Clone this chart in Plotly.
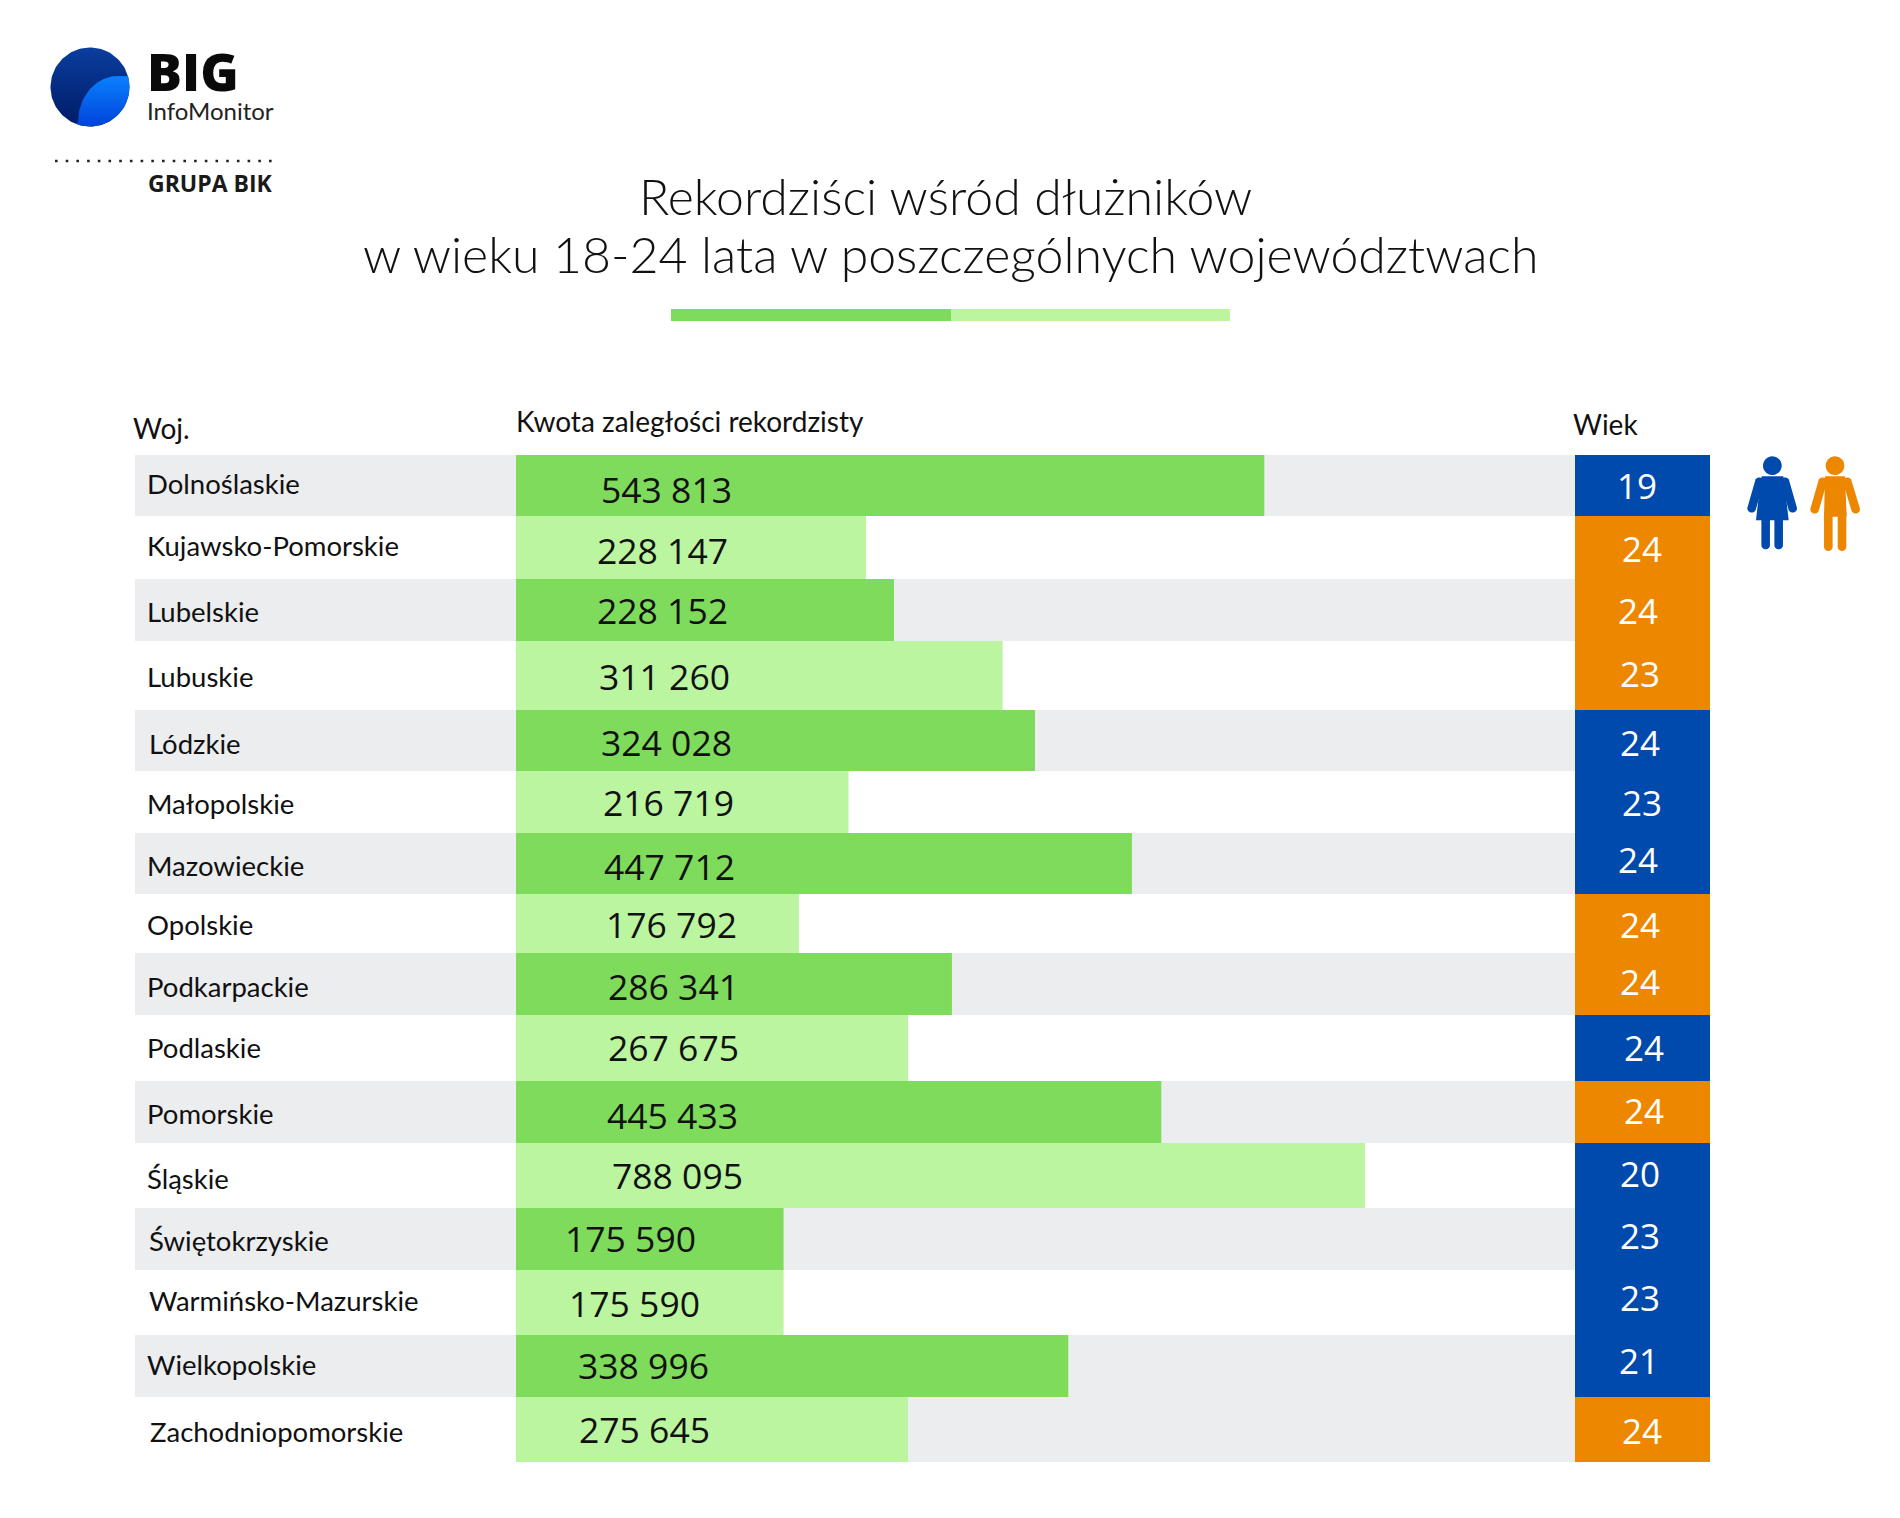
import numpy as np
import plotly.graph_objects as go

# ---------- data ----------
voivodeships = ["Dolnoślaskie", "Kujawsko-Pomorskie", "Lubelskie", "Lubuskie", "Lódzkie", "Małopolskie",
                "Mazowieckie", "Opolskie", "Podkarpackie", "Podlaskie", "Pomorskie", "Śląskie",
                "Świętokrzyskie", "Warmińsko-Mazurskie", "Wielkopolskie", "Zachodniopomorskie"]
amount_labels = ["543 813", "228 147", "228 152", "311 260", "324 028", "216 719", "447 712", "176 792",
                 "286 341", "267 675", "445 433", "788 095", "175 590", "175 590", "338 996", "275 645"]
# the source infographic's bars are not proportional to their printed labels: lengths as drawn
bar_drawn = [694650, 324900, 350900, 451700, 481800, 308650, 571800, 262700,
             404700, 363900, 599000, 788095, 248400, 248400, 512700, 363900]
ages = [19, 24, 24, 23, 24, 23, 24, 24, 24, 24, 24, 20, 23, 23, 21, 24]
genders = ["K", "M", "M", "M", "K", "K", "K", "M", "M", "K", "M", "K", "K", "K", "K", "M"]

# ---------- layout / style ----------
W, H = 1900, 1518
row_heights = [61, 63, 62, 69, 61, 62, 61, 59, 62, 66, 62, 65, 62, 65, 62, 65]
TOP, BOTTOM = 455, 1462
TRACK_L, TRACK_R, AGE_R, STRIPE_L = 516, 1575, 1710, 135
AXIS_MAX = 983070
DARK, LIGHT, GREY, BLUE, ORANGE = "#7FDB5B", "#BCF5A0", "#ECEDEF", "#004AAD", "#EE8700"
gender_color = {"K": BLUE, "M": ORANGE}
SANS, NUM = "Lato", "Open Sans"

cat_dx = [10, 10, 10, 10, 12, 10, 10, 10, 10, 10, 10, 10, 12, 12, 10, 13]
cat_dy = [-1.5, -1.5, 1.5, 1.5, 3.2, 1, 1.5, 0.5, 2, -1, 1.7, 2.5, 1, -2.5, -1.3, 1.9]
val_dx = [150, 146, 146, 148, 150, 152, 153, 155, 157, 157, 156, 161, 114, 118, 127, 128]
val_dy = [3.5, 2, 0, 0, 1, 0, 2, 0.5, 2.2, -1.5, 2.5, -0.7, -1.5, 0, -1.4, -0.5]
age_dx = [-5.5, -1, -5, -3, -3, -1, -5, -3, -3, 1, 1, -3, -3, -3, -4, -1]
age_dy = [-.5, .5, .7, -2.5, 2.2, .7, -3.8, 1.5, -2.7, -.5, -1.4, -1.7, -3.4, -4.9, -5.6, .6]

edges = np.concatenate([[0], np.cumsum(row_heights)])
centers = (edges[:-1] + edges[1:]) / 2
PX = lambda p: p / W
PY = lambda p: 1 - p / H

fig = go.Figure()
fig.add_bar(y=centers, x=bar_drawn, width=row_heights, orientation="h", xaxis="x", yaxis="y",
            marker=dict(color=[DARK if i % 2 == 0 else LIGHT for i in range(16)], line_width=0),
            hoverinfo="skip", showlegend=False)
fig.add_bar(y=centers, x=[1] * 16, width=row_heights, orientation="h", xaxis="x2", yaxis="y",
            marker=dict(color=[gender_color[g] for g in genders], line_width=0),
            hoverinfo="skip", showlegend=False)

# logo, with gradient fills on a separate subplot that spans the page in pixels
t = np.linspace(0, 2 * np.pi, 120)
fig.add_scatter(x=90 + 39.5 * np.cos(t), y=87 + 39.5 * np.sin(t), xaxis="x3", yaxis="y3", mode="lines",
                line_width=0, fill="toself", hoverinfo="skip", showlegend=False,
                fillgradient=dict(type="vertical", colorscale=[[0, "#001A66"], [1, "#0A3E9E"]]))
inner_arc_x = 118 + 40 * np.cos(np.linspace(np.pi, np.pi * 1.5, 30))
inner_arc_y = 122 + 46 * np.sin(np.linspace(np.pi, np.pi * 1.5, 30))
rim = np.linspace(np.arctan2(76 - 87, 39), np.pi * 0.62, 40)
fig.add_scatter(x=np.concatenate([inner_arc_x, 90 + 39.5 * np.cos(rim)]),
                y=np.concatenate([inner_arc_y, 87 + 39.5 * np.sin(rim)]),
                xaxis="x3", yaxis="y3", mode="lines", line_width=0, fill="toself", hoverinfo="skip",
                showlegend=False,
                fillgradient=dict(type="vertical", colorscale=[[0, "#0044D8"], [1, "#0A80FF"]]))

shapes = []
for i in range(16):
    if i % 2 == 0:
        shapes.append(dict(type="rect", xref="paper", yref="y", x0=PX(STRIPE_L), x1=PX(TRACK_R),
                           y0=edges[i], y1=edges[i + 1], fillcolor=GREY, line_width=0, layer="below"))
shapes.append(dict(type="rect", xref="paper", yref="y", x0=PX(TRACK_L), x1=PX(TRACK_R),
                   y0=edges[15], y1=edges[16], fillcolor=GREY, line_width=0, layer="below"))
shapes.append(dict(type="rect", xref="paper", yref="paper", x0=PX(671), x1=PX(951), y0=PY(321), y1=PY(309),
                   fillcolor=DARK, line_width=0))
shapes.append(dict(type="rect", xref="paper", yref="paper", x0=PX(951), x1=PX(1230), y0=PY(321), y1=PY(309),
                   fillcolor=LIGHT, line_width=0))
shapes.append(dict(type="line", xref="paper", yref="paper", x0=PX(55), x1=PX(277), y0=PY(161), y1=PY(161),
                   line=dict(color="#222222", width=2.6, dash="2.6px,8.1px")))


def poly(points, color):
    d = "M" + " L".join(f"{PX(x):.5f},{PY(y):.5f}" for x, y in points) + " Z"
    shapes.append(dict(type="path", xref="paper", yref="paper", path=d, fillcolor=color, line_width=0))


def capsule(x1, y1, x2, y2, r, color):
    ang = np.arctan2(y2 - y1, x2 - x1)
    s1 = np.linspace(ang + np.pi / 2, ang + 3 * np.pi / 2, 12)
    s2 = np.linspace(ang - np.pi / 2, ang + np.pi / 2, 12)
    pts = [(x1 + r * np.cos(q), y1 + r * np.sin(q)) for q in s1]
    pts += [(x2 + r * np.cos(q), y2 + r * np.sin(q)) for q in s2]
    poly(pts, color)


def z(x, y):
    return (1500 + x / 3, 400 + y / 3)


def zcap(x1, y1, x2, y2, color):
    capsule(*z(x1, y1), *z(x2, y2), 4.3, color)


def head(x, y, color):
    q = np.linspace(0, 2 * np.pi, 40)
    poly([z(x + 28 * np.cos(v), y + 28 * np.sin(v)) for v in q], color)


# woman pictogram
head(817, 197, BLUE)
poly([z(*p) for p in [(785, 229), (850, 229), (858, 290), (866, 361), (768, 361), (776, 290)]], BLUE)
zcap(778, 245, 755, 325, BLUE)
zcap(855, 245, 878, 325, BLUE)
zcap(797, 355, 797, 435, BLUE)
zcap(836, 355, 836, 435, BLUE)
# man pictogram
head(1005, 197, ORANGE)
poly([z(*p) for p in [(975, 229), (1035, 229), (1040, 350), (972, 350)]], ORANGE)
zcap(968, 245, 944, 328, ORANGE)
zcap(1042, 245, 1067, 328, ORANGE)
zcap(985, 340, 985, 440, ORANGE)
zcap(1026, 340, 1026, 440, ORANGE)

ann = []


def text(x, y, s, size, family=SANS, color="#111111", anchor="left", weight=400):
    ann.append(dict(xref="paper", yref="paper", x=PX(x), y=PY(y), text=s,
                    showarrow=False, xanchor=anchor, yanchor="middle", align=anchor,
                    font=dict(family=family, size=size, color=color, weight=weight)))


for i in range(16):
    cy = TOP + centers[i]
    text(STRIPE_L + cat_dx[i], cy + cat_dy[i], voivodeships[i], 27.5)
    text(TRACK_L + val_dx[i], cy + val_dy[i], amount_labels[i], 35.5, NUM, anchor="center")
    text((TRACK_R + AGE_R) / 2 + age_dx[i], cy + age_dy[i], str(ages[i]), 35, NUM, color="white", anchor="center")

text(945, 196, "Rekordziści wśród dłużników", 50, color="#111111", anchor="center", weight=300)
text(950, 254, "w wieku 18-24 lata w poszczególnych województwach", 50, color="#111111", anchor="center", weight=300)
text(131, 428, "Woj.", 28)
text(514, 421, "Kwota zaległości rekordzisty", 28)
text(1571, 424, "Wiek", 28)
# the logo wordmark is one text block, so its two tightly set lines stay together
wordmark = ("<span style=\"font-size:52px;font-family:'Open Sans';font-weight:800;fill:#0A0A0A\">BIG</span><br>"
            "<span style=\"font-size:24px;fill:#222222\">InfoMonitor</span>")
text(145, 80, wordmark, 22.5)
text(146, 183, "GRUPA BIK", 23, NUM, "#1A1A1A", weight=700)

hidden = dict(visible=False, fixedrange=True)
fig.update_layout(
    width=W, height=H, margin=dict(l=0, r=0, t=0, b=0), autosize=False,
    paper_bgcolor="white", plot_bgcolor="rgba(0,0,0,0)", barmode="overlay", showlegend=False,
    xaxis=dict(domain=[PX(TRACK_L), PX(TRACK_R)], range=[0, AXIS_MAX], anchor="y", **hidden),
    xaxis2=dict(domain=[PX(TRACK_R), PX(AGE_R)], range=[0, 1], anchor="y", **hidden),
    xaxis3=dict(domain=[0, 1], range=[0, W], anchor="y3", **hidden),
    yaxis=dict(domain=[PY(BOTTOM), PY(TOP)], range=[int(edges[-1]), 0], anchor="x", **hidden),
    yaxis3=dict(domain=[0, 1], range=[H, 0], anchor="x3", **hidden),
    shapes=shapes, annotations=ann,
)
fig.write_html("out.html", config={"displayModeBar": False}, post_script="document.body.style.margin='0';")
